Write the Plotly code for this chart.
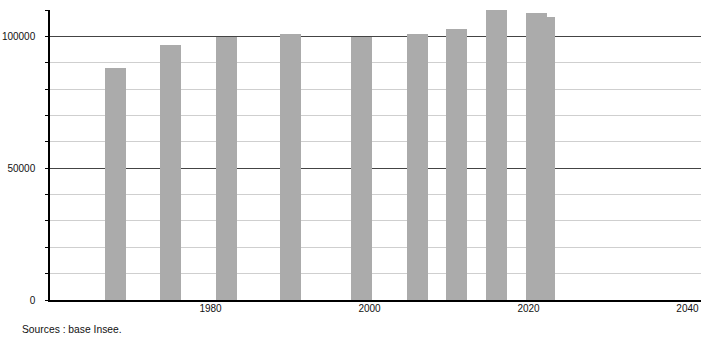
import plotly.graph_objects as go

years = [1968, 1975, 1982, 1990, 1999, 2006, 2011, 2016, 2021, 2022]
population = [87900, 96950, 99850, 100900, 99950, 101100, 102700, 110000, 108900, 107450]
x_ticks = [1980, 2000, 2020, 2040]
y_ticks = [0, 50000, 100000]
source_text = "Sources : base Insee."

fig = go.Figure()
fig.add_trace(go.Bar(
    x=years, y=population, width=2.64,
    marker=dict(color="#ababab", line=dict(width=0)),
    hoverinfo="skip",
))

fig.update_layout(
    width=710, height=340,
    margin=dict(l=50, r=9, t=10, b=40),
    paper_bgcolor="white", plot_bgcolor="white",
    showlegend=False,
    font=dict(family="Liberation Sans, Arial, sans-serif", size=10, color="#111"),
    bargap=0,
    xaxis=dict(
        range=[1959.8, 2041.7],
        automargin=False,
        tickvals=x_ticks, ticktext=[str(v) for v in x_ticks],
        showgrid=False, zeroline=False,
        showline=True, linecolor="black", linewidth=1.5,
        ticks="", ticklen=0,
        ticklabelstandoff=-2,
    ),
    yaxis=dict(
        range=[0, 110080],
        automargin=False,
        tickvals=y_ticks, ticktext=[str(v) for v in y_ticks],
        showgrid=True, gridcolor="#444", gridwidth=1,
        zeroline=False,
        showline=True, linecolor="black", linewidth=1.5,
        ticks="outside", ticklen=3, tickcolor="black",
        ticklabelstandoff=8,
        minor=dict(dtick=10000, tick0=0, showgrid=True, gridcolor="#cfcfcf",
                   gridwidth=1, ticks="outside", ticklen=3, tickcolor="black"),
    ),
    annotations=[dict(
        text=source_text, xref="paper", yref="paper",
        x=-30/651, y=-29/290, xanchor="left", yanchor="middle",
        showarrow=False, font=dict(size=10.3, color="#111"),
    )],
)

fig.write_html("out.html")
